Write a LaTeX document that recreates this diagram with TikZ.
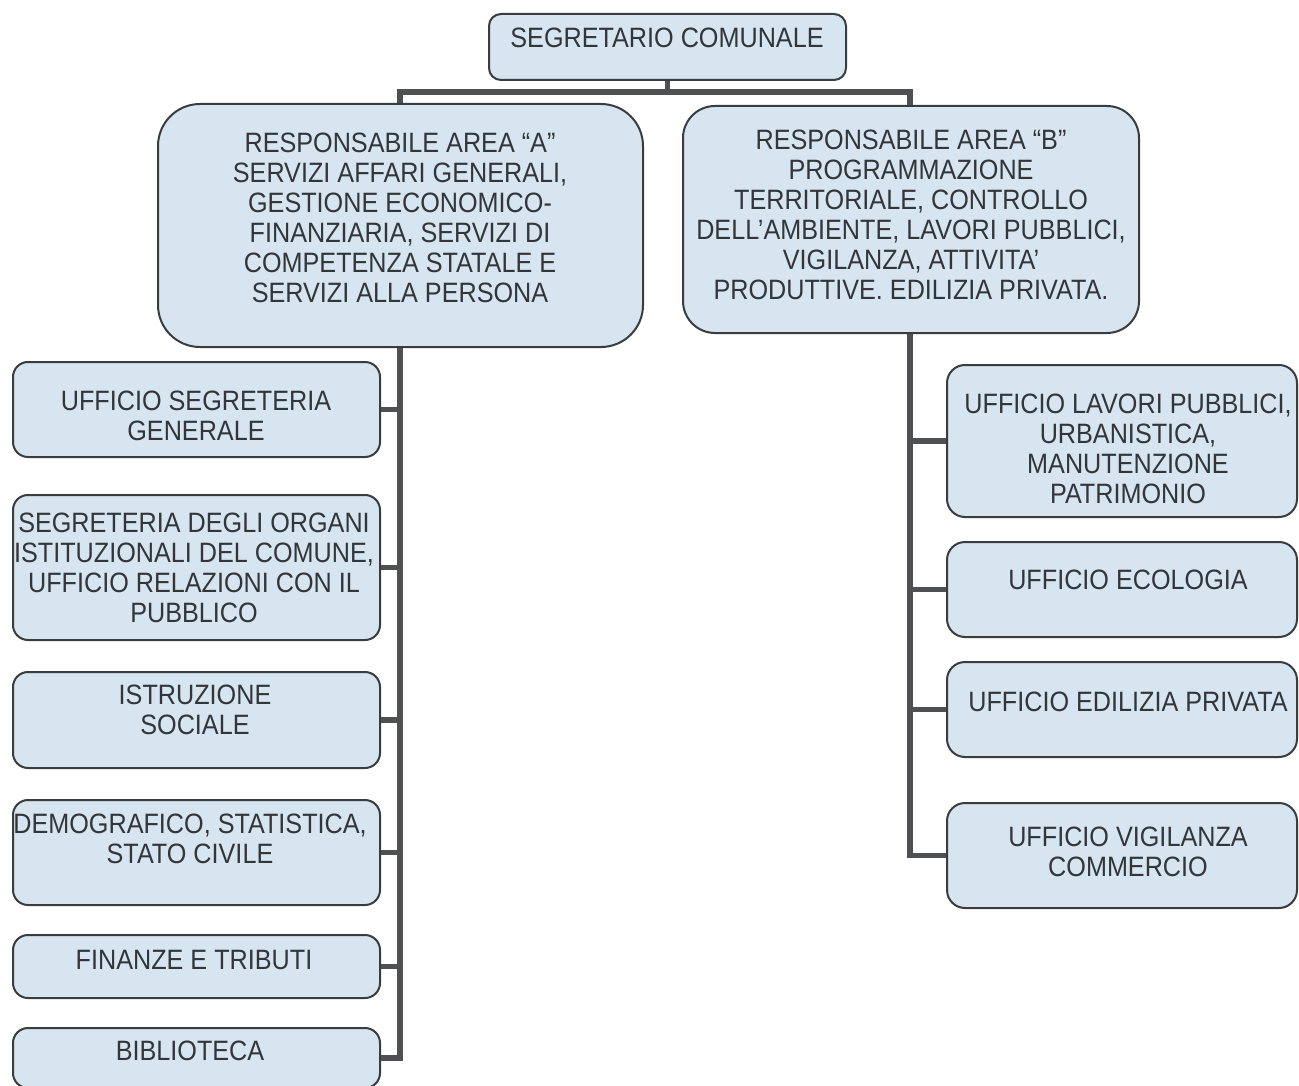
\documentclass[tikz,border=0pt]{standalone}
\usepackage{fontspec}
\setmainfont{Liberation Sans}[FakeStretch=0.9]
\definecolor{boxfill}{RGB}{214,229,240}
\definecolor{boxline}{RGB}{58,60,62}
\definecolor{wirecol}{RGB}{78,80,82}
\definecolor{inkcol}{RGB}{50,54,58}

\begin{document}
\begin{tikzpicture}[x=1pt,y=1pt]

\tikzset{officebox/.style = {draw=boxline, fill=boxfill, line width=2pt, inner sep=0pt},
         boxtext/.style = {align=center, inner sep=0pt, text=inkcol, font=\fontsize{28}{30}\selectfont},
         wire/.style = {draw=wirecol, line width=5.5pt, line join=miter}}

\useasboundingbox (0,0) rectangle (1299,-1086);

\node[officebox, minimum width=357pt, minimum height=66pt, rounded corners=12pt] (segr) at (667.5,-47) {};
\node[officebox, minimum width=485pt, minimum height=243pt, rounded corners=42pt] (areaA) at (400.5,-225.5) {};
\node[officebox, minimum width=456pt, minimum height=227pt, rounded corners=32pt] (areaB) at (911,-219.5) {};

\node[officebox, minimum width=367pt, minimum height=95pt, rounded corners=15pt] (segGen) at (196.5,-409.5) {};
\node[officebox, minimum width=367pt, minimum height=145pt, rounded corners=15pt] (organi) at (196.5,-567.5) {};
\node[officebox, minimum width=367pt, minimum height=96pt, rounded corners=15pt] (istruz) at (196.5,-720) {};
\node[officebox, minimum width=367pt, minimum height=105pt, rounded corners=15pt] (demogr) at (196.5,-852.5) {};
\node[officebox, minimum width=367pt, minimum height=63pt, rounded corners=15pt] (finanze) at (196.5,-966.5) {};
\node[officebox, minimum width=367pt, minimum height=60pt, rounded corners=15pt] (biblio) at (196.5,-1058) {};

\node[officebox, minimum width=350pt, minimum height=152pt, rounded corners=18pt] (lavori) at (1122,-441) {};
\node[officebox, minimum width=350pt, minimum height=95pt, rounded corners=18pt] (ecol) at (1122,-589.5) {};
\node[officebox, minimum width=350pt, minimum height=95pt, rounded corners=18pt] (edil) at (1122,-709.5) {};
\node[officebox, minimum width=350pt, minimum height=105pt, rounded corners=18pt] (vigil) at (1122,-855.5) {};

\node[boxtext] (segrT) at (667,-37.5) {SEGRETARIO COMUNALE};
\node[boxtext] (areaAT) at (400,-218) {RESPONSABILE AREA “A”\\SERVIZI AFFARI GENERALI,\\GESTIONE ECONOMICO-\\FINANZIARIA, SERVIZI DI\\COMPETENZA STATALE E\\SERVIZI ALLA PERSONA};
\node[boxtext] (areaBT) at (911,-215) {RESPONSABILE AREA “B”\\PROGRAMMAZIONE\\TERRITORIALE, CONTROLLO\\DELL’AMBIENTE, LAVORI PUBBLICI,\\VIGILANZA, ATTIVITA’\\PRODUTTIVE. EDILIZIA PRIVATA.};

\node[boxtext] (segGenT) at (196,-416) {UFFICIO SEGRETERIA\\GENERALE};
\node[boxtext] (organiT) at (194,-567.5) {SEGRETERIA DEGLI ORGANI\\ISTITUZIONALI DEL COMUNE,\\UFFICIO RELAZIONI CON IL\\PUBBLICO};
\node[boxtext] (istruzT) at (195,-710) {ISTRUZIONE\\SOCIALE};
\node[boxtext] (demogrT) at (190,-839) {DEMOGRAFICO, STATISTICA,\\STATO CIVILE};
\node[boxtext] (finanzeT) at (194,-960) {FINANZE E TRIBUTI};
\node[boxtext] (biblioT) at (190,-1051) {BIBLIOTECA};

\node[boxtext] (lavoriT) at (1128,-449) {UFFICIO LAVORI PUBBLICI,\\URBANISTICA,\\MANUTENZIONE\\PATRIMONIO};
\node[boxtext] (ecolT) at (1128,-580) {UFFICIO ECOLOGIA};
\node[boxtext] (edilT) at (1128,-702) {UFFICIO EDILIZIA PRIVATA};
\node[boxtext] (vigilT) at (1128,-852) {UFFICIO VIGILANZA\\COMMERCIO};

\coordinate (jA) at (400,-92);
\coordinate (jB) at (910,-92);

\draw[wire] (segr.south) -- (segr.south |- jA);
\draw[wire] (jA |- areaA.north) -- (jA) -- (jB) -- (jB |- areaB.north);

\draw[wire] (jA |- areaA.south) |- (biblio.east);
\foreach \n in {segGen,organi,istruz,demogr,finanze}
  \draw[wire] (\n.east) -- (\n.east -| jA);

\draw[wire] (jB |- areaB.south) |- (vigil.west);
\foreach \n in {lavori,ecol,edil}
  \draw[wire] (\n.west) -- (\n.west -| jB);

\end{tikzpicture}
\end{document}
